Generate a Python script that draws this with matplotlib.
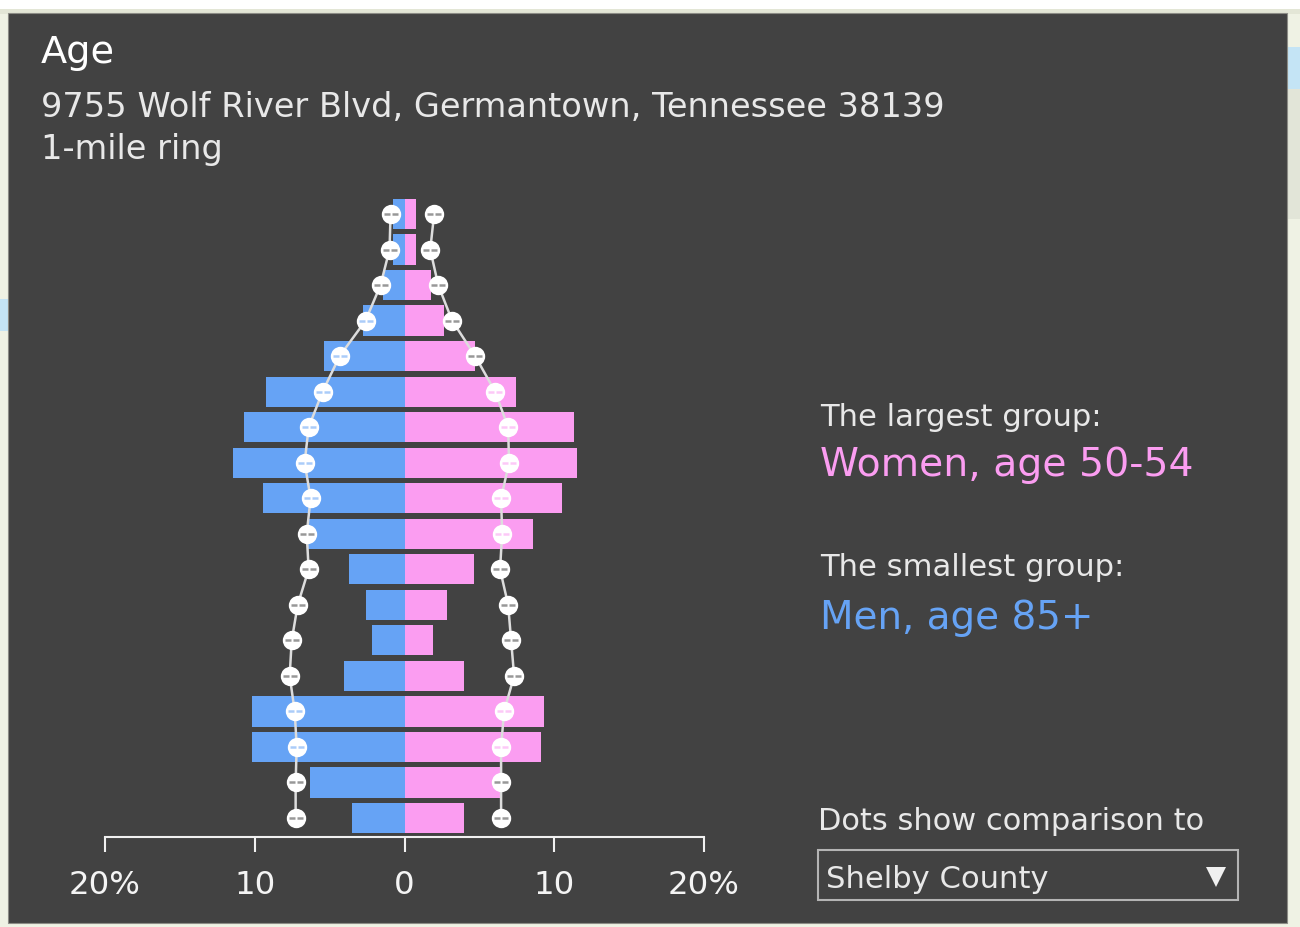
import numpy as np
import matplotlib
matplotlib.use('Agg')
import matplotlib.pyplot as plt
from matplotlib.patches import Rectangle
from matplotlib.path import Path

W, H = 1300, 928

ages = ['85+', '80-84', '75-79', '70-74', '65-69', '60-64', '55-59', '50-54', '45-49',
        '40-44', '35-39', '30-34', '25-29', '20-24', '15-19', '10-14', '5-9', '0-4']

# percent of population
men = [0.75, 0.75, 1.45, 2.8, 5.4, 9.25, 10.75, 11.45, 9.45,
       6.5, 3.7, 2.6, 2.2, 4.05, 10.2, 10.2, 6.3, 3.5]
women = [0.75, 0.75, 1.75, 2.65, 4.7, 7.45, 11.35, 11.55, 10.55,
         8.55, 4.65, 2.85, 1.9, 3.95, 9.3, 9.1, 6.35, 3.95]

# Shelby County comparison dots
men_dots = [0.93, 1.0, 1.6, 2.6, 4.33, 5.47, 6.4, 6.67, 6.27,
            6.53, 6.4, 7.13, 7.53, 7.67, 7.33, 7.2, 7.27, 7.27]
women_dots = [1.98, 1.72, 2.25, 3.18, 4.72, 6.05, 6.92, 6.98, 6.45,
              6.52, 6.38, 6.92, 7.12, 7.32, 6.65, 6.45, 6.45, 6.45]

tick_vals = [-20, -10, 0, 10, 20]
tick_labels = ['20%', '10', '0', '10', '20%']

PANEL = '#424242'
BLUE = '#66a3f5'
PINK = '#fb9df1'
TEXT = '#e8e8e8'

plt.rcParams['font.family'] = ['DejaVu Sans']

fig = plt.figure(figsize=(W / 100, H / 100), dpi=100, facecolor='#eff2e4')

# whole figure layer in pixels, for the panel and the loose texts
bg = fig.add_axes([0, 0, 1, 1])
bg.set_xlim(0, W)
bg.set_ylim(H, 0)
bg.axis('off')
# bits of the map that peek out around the panel
bg.add_patch(Rectangle((0, 0), W, 10, color='white', lw=0))
bg.add_patch(Rectangle((0, 10), W, 5, color='#e3e6d6', lw=0))
bg.add_patch(Rectangle((0, 300), 8, 32, color='#c4e4f5', lw=0))
bg.add_patch(Rectangle((1287, 48), 13, 42, color='#c4e4f5', lw=0))
bg.add_patch(Rectangle((1287, 90), 13, 130, color='#e2e5d8', lw=0))
bg.add_patch(Rectangle((8, 14), 1279, 910, fc=PANEL, ec='#8c8c86', lw=0.8))

bg.text(41, 63, 'Age', color='white', fontsize=27.5)
bg.text(41, 117, '9755 Wolf River Blvd, Germantown, Tennessee 38139', color=TEXT, fontsize=24.2)
bg.text(41, 159, '1-mile ring', color=TEXT, fontsize=24.2)

bg.text(820, 426, 'The largest group:', color=TEXT, fontsize=22.1)
bg.text(820, 476, 'Women, age 50-54', color=PINK, fontsize=28.4)
bg.text(820, 576, 'The smallest group:', color=TEXT, fontsize=22.1)
bg.text(820, 629, 'Men, age 85+', color=BLUE, fontsize=28)

bg.text(818, 830, 'Dots show comparison to', color=TEXT, fontsize=22)
bg.add_patch(Rectangle((818, 851), 420, 50, fill=False, ec='#b4b4b4', lw=1.5))
bg.text(826, 888, 'Shelby County', color=TEXT, fontsize=22.1)
bg.plot([1216], [878], marker='v', ms=14, color='#f0f0f0', mew=0)

# pyramid
ax = fig.add_axes([105 / W, 1 - 838 / H, 599 / W, 642 / H])
ax.patch.set_alpha(0)
y = np.arange(len(ages))
ax.barh(y, -np.array(men), height=0.85, color=BLUE)
ax.barh(y, women, height=0.85, color=PINK)

# the broken dash drawn inside each dot
dash = Path([(-1, 0), (-0.12, 0), (0.12, 0), (1, 0)],
            [Path.MOVETO, Path.LINETO, Path.MOVETO, Path.LINETO])

for dots, bars, col in [(-np.array(men_dots), men, BLUE), (np.array(women_dots), women, PINK)]:
    ax.plot(dots, y, color='#dddddd', lw=1.8, zorder=3)
    ax.scatter(dots, y, s=195, color='white', lw=0, zorder=4)
    for d, yy, b in zip(dots, y, bars):
        c = col if abs(d) < b else '#444444'
        ax.plot([d], [yy], marker=dash, ms=10, mew=1.8, color=c, alpha=0.55, zorder=5)

ax.set_xlim(-20, 20)
ax.set_ylim(17.535, -0.535)
ax.set_yticks([])
ax.set_xticks(tick_vals)
ax.set_xticklabels(tick_labels)
ax.tick_params(axis='x', direction='out', length=11, width=1.5, color='#f0f0f0',
               labelcolor='#f4f4f4', labelsize=23.3, pad=12)
for s in ['top', 'left', 'right']:
    ax.spines[s].set_visible(False)
ax.spines['bottom'].set_color('#f0f0f0')
ax.spines['bottom'].set_linewidth(1.5)

fig.savefig('out.png', dpi=100, facecolor=fig.get_facecolor())
